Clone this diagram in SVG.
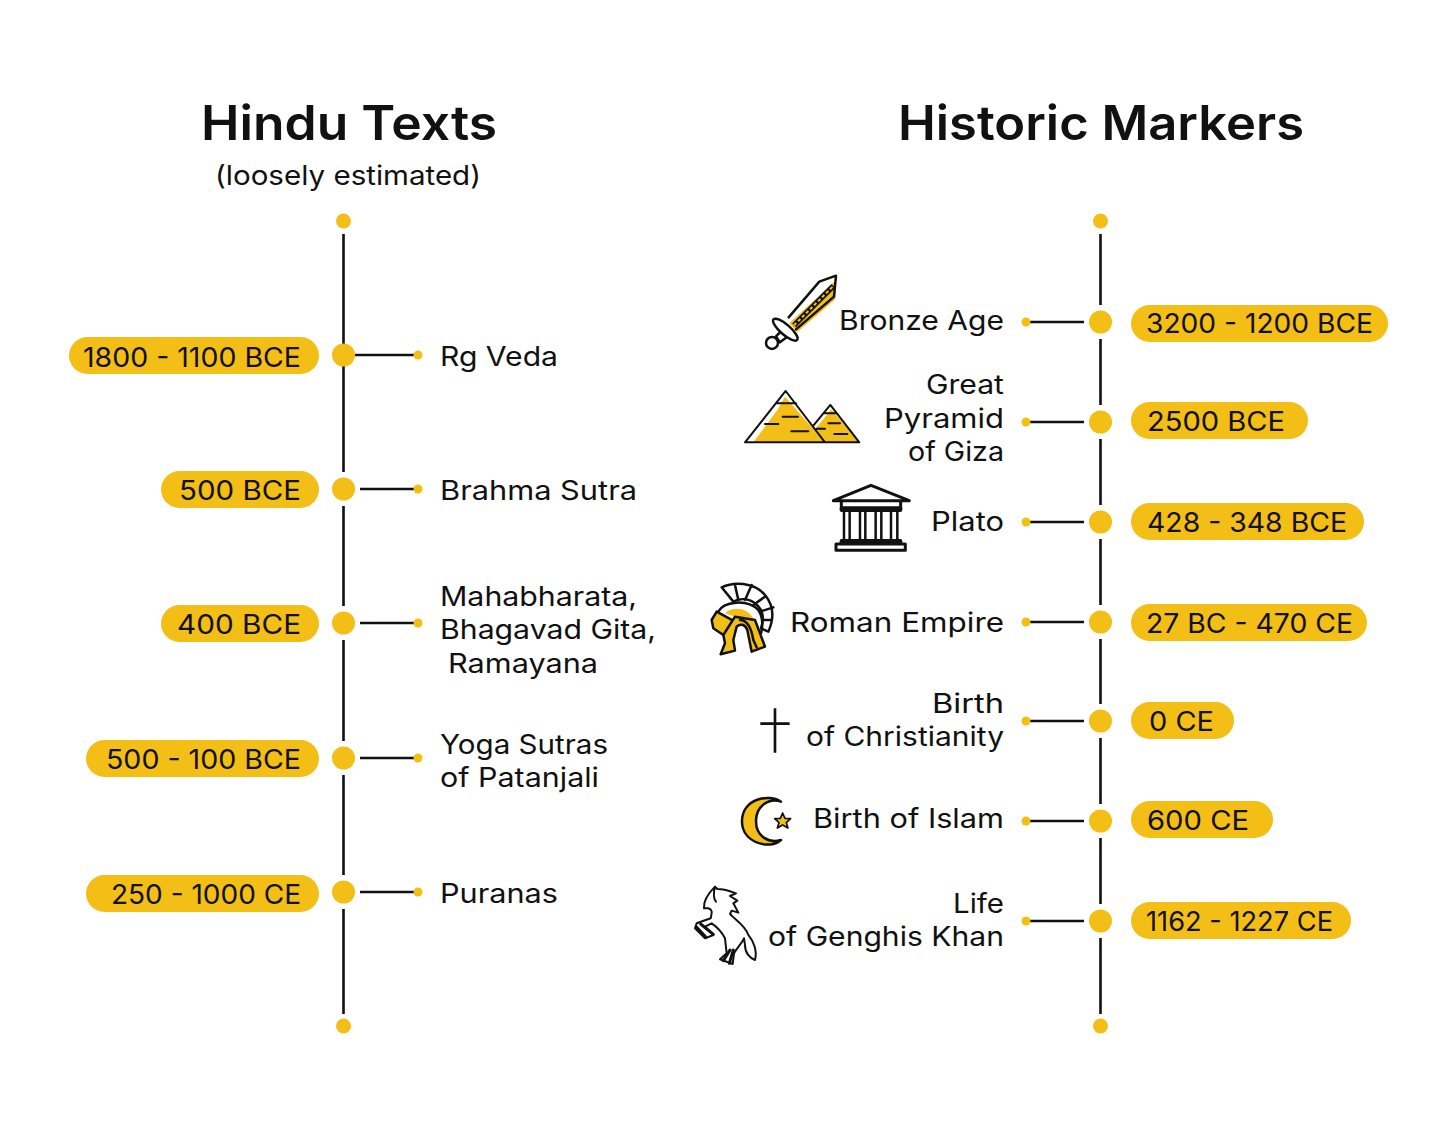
<svg xmlns="http://www.w3.org/2000/svg" width="1456" height="1141" viewBox="0 0 1456 1141">
<style>
text{font-family:"Inter","Noto Sans","Liberation Sans",sans-serif;fill:#111;font-size:27px}
.title{font-size:48px;font-weight:600}
.y{fill:#F3BE16}
.pill{fill:#F3BE16}
.spine,.link{stroke:#111;stroke-width:2.6;fill:none}
.ic{stroke:#111;stroke-width:7.500;fill:none;stroke-linejoin:round;stroke-linecap:round}
.icf{stroke:#111;stroke-width:7.500;fill:#F3BE16;stroke-linejoin:round;stroke-linecap:round}
.icw{stroke:#111;stroke-width:7.500;fill:#fff;stroke-linejoin:round;stroke-linecap:round}
.nof{fill:#F3BE16;stroke:none}
</style>
<rect width="1456" height="1141" fill="#fff"/>
<g id="titles">
<text class="title" x="201" y="140" textLength="296" lengthAdjust="spacingAndGlyphs">Hindu Texts</text>
<text x="215" y="185" textLength="266" lengthAdjust="spacingAndGlyphs">(loosely estimated)</text>
<text class="title" x="898" y="140" textLength="406" lengthAdjust="spacingAndGlyphs">Historic Markers</text>
</g>
<g id="connectors">
<path class="spine" d="M343.500 234V344M343.500 366V472M343.500 506V606M343.500 640V741M343.500 775V875M343.500 909V1014"/>
<path class="link" d="M355 355H415M360 489H415M360 623H415M360 758H415M360 892H415"/>
<path class="spine" d="M1100.500 234V305M1100.500 339V405M1100.500 439V505M1100.500 539V605M1100.500 639V704M1100.500 738V804M1100.500 838V904M1100.500 938V1014"/>
<path class="link" d="M1030 322H1084M1030 422H1084M1030 522H1084M1030 622H1084M1030 721H1084M1030 821H1084M1030 921H1084"/>
</g>
<g id="spine-ends">
<circle class="y" cx="343.500" cy="221" r="7.500"/><circle class="y" cx="343.500" cy="1026" r="7.500"/>
<circle class="y" cx="1100.500" cy="221" r="7.500"/><circle class="y" cx="1100.500" cy="1026" r="7.500"/>
</g>
<g id="n-rgveda"><rect class="pill" x="69" y="337" width="250" height="37" rx="18.500"/><text x="83" y="367" textLength="218" lengthAdjust="spacingAndGlyphs">1800 - 1100 BCE</text><circle class="y" cx="343.500" cy="355" r="11.500"/><circle class="y" cx="418" cy="355" r="4.500"/><text x="440" y="366" textLength="118" lengthAdjust="spacingAndGlyphs">Rg Veda</text></g>
<g id="n-brahma"><rect class="pill" x="161" y="471" width="158" height="37" rx="18.500"/><text x="179" y="500" textLength="122" lengthAdjust="spacingAndGlyphs">500 BCE</text><circle class="y" cx="343.500" cy="489" r="11.500"/><circle class="y" cx="418" cy="489" r="4.500"/><text x="440" y="500" textLength="197" lengthAdjust="spacingAndGlyphs">Brahma Sutra</text></g>
<g id="n-mahabharata"><rect class="pill" x="161" y="605" width="158" height="37" rx="18.500"/><text x="177" y="634" textLength="124" lengthAdjust="spacingAndGlyphs">400 BCE</text><circle class="y" cx="343.500" cy="623" r="11.500"/><circle class="y" cx="418" cy="623" r="4.500"/><text x="440" y="606" textLength="197" lengthAdjust="spacingAndGlyphs">Mahabharata,</text><text x="440" y="639" textLength="216" lengthAdjust="spacingAndGlyphs">Bhagavad Gita,</text><text x="448" y="673" textLength="150" lengthAdjust="spacingAndGlyphs">Ramayana</text></g>
<g id="n-yoga"><rect class="pill" x="86" y="740" width="233" height="37" rx="18.500"/><text x="106" y="769" textLength="195" lengthAdjust="spacingAndGlyphs">500 - 100 BCE</text><circle class="y" cx="343.500" cy="758" r="11.500"/><circle class="y" cx="418" cy="758" r="4.500"/><text x="440" y="754" textLength="168" lengthAdjust="spacingAndGlyphs">Yoga Sutras</text><text x="440" y="787" textLength="159" lengthAdjust="spacingAndGlyphs">of Patanjali</text></g>
<g id="n-puranas"><rect class="pill" x="86" y="875" width="233" height="37" rx="18.500"/><text x="111" y="904" textLength="190" lengthAdjust="spacingAndGlyphs">250 - 1000 CE</text><circle class="y" cx="343.500" cy="892" r="11.500"/><circle class="y" cx="418" cy="892" r="4.500"/><text x="440" y="903" textLength="118" lengthAdjust="spacingAndGlyphs">Puranas</text></g>

<g id="n-bronze"><rect class="pill" x="1131" y="305" width="257" height="37" rx="18.500"/><text x="1146" y="333" textLength="227" lengthAdjust="spacingAndGlyphs">3200 - 1200 BCE</text><circle class="y" cx="1100.500" cy="322" r="11.500"/><circle class="y" cx="1026" cy="322" r="4.500"/><text x="839" y="330" textLength="165" lengthAdjust="spacingAndGlyphs">Bronze Age</text>
<g id="icon-sword" transform="translate(690 260) scale(.3333)"><path class="nof" d="M438 60L436 118L322 216L298 190Z"/><path class="ic" d="M296 172L388 65L438 47L432 110L318 208"/><path d="M312 196L430 78" stroke="#111" stroke-width="16" fill="none"/><path d="M312 196L430 78" stroke="#F3BE16" stroke-width="6" stroke-dasharray="10 7" fill="none"/><path class="icw" d="M258 229L280 207L298 226L270 247Z"/><circle class="icw" cx="246" cy="249" r="18"/><ellipse class="icw" cx="286" cy="209" rx="47" ry="15" transform="rotate(41 286 209)"/></g></g>

<g id="n-giza"><rect class="pill" x="1131" y="402" width="177" height="37" rx="18.500"/><text x="1147" y="431" textLength="138" lengthAdjust="spacingAndGlyphs">2500 BCE</text><circle class="y" cx="1100.500" cy="422" r="11.500"/><circle class="y" cx="1026" cy="422" r="4.500"/><text x="926" y="394" textLength="78" lengthAdjust="spacingAndGlyphs">Great</text><text x="884" y="428" textLength="120" lengthAdjust="spacingAndGlyphs">Pyramid</text><text x="908" y="461" textLength="96" lengthAdjust="spacingAndGlyphs">of Giza</text>
<g id="icon-pyramids" transform="translate(690 260) scale(.3333)"><path class="nof" d="M285 410L405 547H190L262 450Z"/><path class="nof" d="M424 448L506 547H402L378 505Z"/><path class="ic" style="stroke-width:6" d="M287 393L165 547H508L421 435L370 497M287 393L405 547M258 430H318M402 460H440M278 470H324M225 492H265M304 514H355M415 490H450M380 506H405M433 522H472"/></g></g>

<g id="n-plato"><rect class="pill" x="1131" y="503" width="233" height="37" rx="18.500"/><text x="1147" y="532" textLength="200" lengthAdjust="spacingAndGlyphs">428 - 348 BCE</text><circle class="y" cx="1100.500" cy="522" r="11.500"/><circle class="y" cx="1026" cy="522" r="4.500"/><text x="931" y="531" textLength="73" lengthAdjust="spacingAndGlyphs">Plato</text>
<g id="icon-temple" transform="translate(690 470) scale(.3333)"><path class="ic" style="stroke-width:9" d="M430 92L543 46L658 92ZM454 95V112M632 95V112"/><rect x="449" y="109" width="188" height="17" rx="6" fill="#111"/><rect x="449" y="207" width="188" height="17" rx="6" fill="#111"/><path class="ic" d="M462 124V208M479 124V208M510 124V208M526 124V208M557 124V208M574 124V208M603 124V208M622 124V208"/><rect class="ic" style="stroke-width:9" x="438" y="222" width="208" height="19"/></g></g>

<g id="n-roman"><rect class="pill" x="1131" y="604" width="236" height="37" rx="18.500"/><text x="1146" y="633" textLength="207" lengthAdjust="spacingAndGlyphs">27 BC - 470 CE</text><circle class="y" cx="1100.500" cy="622" r="11.500"/><circle class="y" cx="1026" cy="622" r="4.500"/><text x="790" y="632" textLength="214" lengthAdjust="spacingAndGlyphs">Roman Empire</text>
<g id="icon-helmet" transform="translate(690 470) scale(.3333)"><path class="ic" d="M95 352C130 335 190 335 225 375C250 405 255 440 235 485L213 475C225 440 215 415 195 400C175 385 150 385 130 395ZM135 345L145 390M185 345L165 390M228 378L190 405M250 412L210 425M245 450L217 450"/><path class="ic" d="M85 425C100 395 170 385 205 420C225 450 215 480 213 490"/><path class="nof" d="M105 430C125 410 170 410 190 445L200 500L180 470L140 465L135 440Z"/><path class="icf" d="M80 425L135 455L125 480L100 495L70 475L65 450Z"/><path class="icf" d="M100 495L105 520L92 553L135 542L130 510L140 470C150 460 165 462 172 480L185 545L225 530L210 490L195 450L135 440Z"/><path class="ic" d="M150 450C175 450 185 480 190 510L200 532"/></g></g>

<g id="n-christ"><rect class="pill" x="1131" y="702" width="103" height="37" rx="18.500"/><text x="1149" y="731" textLength="65" lengthAdjust="spacingAndGlyphs">0 CE</text><circle class="y" cx="1100.500" cy="721" r="11.500"/><circle class="y" cx="1026" cy="721" r="4.500"/><text x="932" y="713" textLength="72" lengthAdjust="spacingAndGlyphs">Birth</text><text x="806" y="746" textLength="198" lengthAdjust="spacingAndGlyphs">of Christianity</text>
<g id="icon-cross" transform="translate(680 690) scale(.3333)"><path class="ic" style="stroke-linecap:butt;stroke-width:8" d="M285 55V188M241 101H329"/></g></g>

<g id="n-islam"><rect class="pill" x="1131" y="801" width="142" height="37" rx="18.500"/><text x="1147" y="830" textLength="102" lengthAdjust="spacingAndGlyphs">600 CE</text><circle class="y" cx="1100.500" cy="821" r="11.500"/><circle class="y" cx="1026" cy="821" r="4.500"/><text x="813" y="828" textLength="191" lengthAdjust="spacingAndGlyphs">Birth of Islam</text>
<g id="icon-crescent" transform="translate(680 690) scale(.3333)"><path class="icf" d="M303 335C270 310 185 325 186 395C187 460 270 480 303 450C265 460 228 440 228 393C228 350 265 322 303 335Z"/><path class="icf" style="stroke-width:5" d="M308 369L315 385L332 386L319 398L324 414L308 405L292 414L297 398L284 386L301 385Z"/></g></g>

<g id="n-genghis"><rect class="pill" x="1131" y="902" width="220" height="37" rx="18.500"/><text x="1146" y="931" textLength="187" lengthAdjust="spacingAndGlyphs">1162 - 1227 CE</text><circle class="y" cx="1100.500" cy="921" r="11.500"/><circle class="y" cx="1026" cy="921" r="4.500"/><text x="953" y="913" textLength="51" lengthAdjust="spacingAndGlyphs">Life</text><text x="768" y="946" textLength="236" lengthAdjust="spacingAndGlyphs">of Genghis Khan</text>
<g id="icon-horse" transform="translate(680 690) scale(.3333)"><path class="ic" style="stroke-width:6" d="M72 655C70 635 85 610 105 590L112 597C130 597 150 603 168 610L150 618L172 632L160 640L175 668L155 662L150 672C165 690 195 705 205 735C222 755 232 785 225 810C210 805 195 790 195 765L192 745C185 760 170 775 162 790L158 822L120 808L140 790L135 745C125 725 110 710 95 700L75 710L100 735L75 745L45 715L50 700L92 685C95 670 100 660 85 655ZM105 590C100 610 100 625 108 635"/><path class="ic" style="stroke-width:9" d="M50 712L78 742M62 702L100 733M150 780L130 812M160 780L148 820"/></g></g>
</svg>
